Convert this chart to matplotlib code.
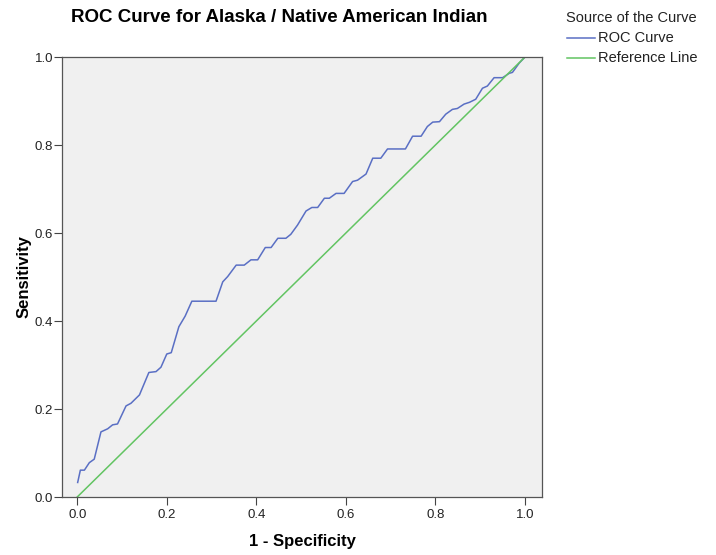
import matplotlib
matplotlib.use("Agg")
import matplotlib.pyplot as plt
from matplotlib.lines import Line2D

plt.rcParams["font.family"] = ["Liberation Sans", "DejaVu Sans"]

# ROC curve points (1 - specificity, sensitivity)
fpr = [0.001, 0.007, 0.016, 0.027, 0.038, 0.053, 0.068, 0.079, 0.090, 0.109,
       0.120, 0.139, 0.160, 0.176, 0.187, 0.200, 0.210, 0.227, 0.241, 0.256,
       0.310, 0.325, 0.336, 0.355, 0.373, 0.388, 0.403, 0.420, 0.433, 0.448,
       0.466, 0.477, 0.492, 0.511, 0.524, 0.537, 0.552, 0.563, 0.578, 0.596,
       0.615, 0.626, 0.645, 0.660, 0.678, 0.693, 0.733, 0.749, 0.768, 0.782,
       0.794, 0.809, 0.823, 0.838, 0.849, 0.864, 0.876, 0.890, 0.905, 0.916,
       0.931, 0.950, 0.965, 0.972, 0.987, 1.000]
tpr = [0.033, 0.061, 0.061, 0.078, 0.086, 0.148, 0.155, 0.164, 0.166, 0.207,
       0.213, 0.232, 0.283, 0.285, 0.295, 0.325, 0.328, 0.387, 0.411, 0.445,
       0.445, 0.489, 0.501, 0.527, 0.527, 0.539, 0.539, 0.567, 0.567, 0.588,
       0.588, 0.597, 0.618, 0.650, 0.658, 0.658, 0.679, 0.679, 0.690, 0.690,
       0.717, 0.720, 0.734, 0.770, 0.770, 0.791, 0.791, 0.820, 0.820, 0.842,
       0.852, 0.853, 0.870, 0.881, 0.883, 0.893, 0.897, 0.904, 0.929, 0.934,
       0.953, 0.953, 0.963, 0.965, 0.986, 1.000]
ref = [0.0, 1.0]
ticks = [0.0, 0.2, 0.4, 0.6, 0.8, 1.0]

ROC_COLOR = "#5a6fc4"
REF_COLOR = "#62c462"

W, H = 716, 555
fig = plt.figure(figsize=(W / 100, H / 100), dpi=100)
fig.patch.set_facecolor("white")

ax = fig.add_axes([62 / W, (H - 497) / H, 480 / W, 440 / H])
ax.set_facecolor("#f0f0f0")
ax.plot(fpr, tpr, color=ROC_COLOR, lw=1.1)
ax.plot(ref, ref, color=REF_COLOR, lw=1.1)
ax.set_xlim(-0.034, 1.038)
ax.set_ylim(0, 1)
ax.set_xticks(ticks)
ax.set_yticks(ticks)
ax.set_xticklabels([f"{t:.1f}" for t in ticks])
ax.set_yticklabels([f"{t:.1f}" for t in ticks])
ax.tick_params(direction="out", length=6, width=0.8, color="#444444",
               labelsize=9.5, labelcolor="#222222", pad=0.5)
ax.tick_params(axis="x", pad=3)
for sp in ax.spines.values():
    sp.set_color("#555555")
    sp.set_linewidth(0.9)

ax.set_xlabel("1 - Specificity", fontsize=12, fontweight="bold", labelpad=9)
ax.set_ylabel("Sensitivity", fontsize=12, fontweight="bold", labelpad=2)

fig.text(279 / W, 1 - 18 / H, "ROC Curve for Alaska / Native American Indian",
         ha="center", va="center", fontsize=13.5, fontweight="bold")

# legend drawn in figure coordinates to the right of the plot
fig.text(566 / W, 1 - 18 / H, "Source of the Curve", ha="left", va="center",
         fontsize=10.5, color="#222222")
for y, label, col in [(38, "ROC Curve", ROC_COLOR), (58, "Reference Line", REF_COLOR)]:
    fig.add_artist(Line2D([567 / W, 595 / W], [1 - y / H, 1 - y / H],
                          color=col, lw=1.1, transform=fig.transFigure))
    fig.text(598 / W, 1 - y / H, label, ha="left", va="center",
             fontsize=10.5, color="#222222")

fig.savefig("out.png", dpi=100)
